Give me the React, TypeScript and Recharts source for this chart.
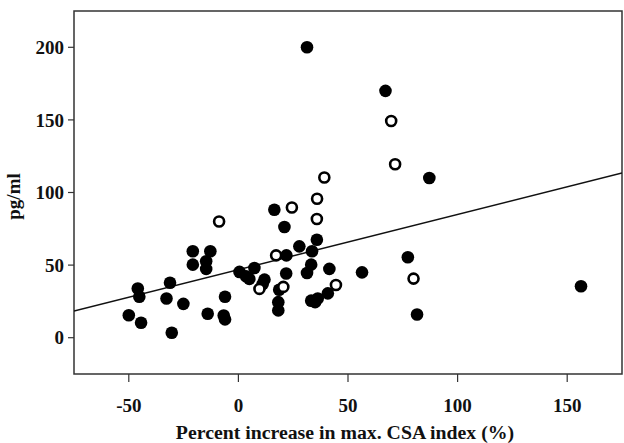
import { ScatterChart, Scatter, XAxis, YAxis, ReferenceLine, ReferenceArea } from 'recharts';

// filled dots
const filledPoints = [
  { x: -50, y: 15.5 }, { x: -45.9, y: 33.9 }, { x: -45.2, y: 28.2 }, { x: -44.4, y: 10.3 },
  { x: -32.8, y: 27 }, { x: -31.2, y: 37.8 }, { x: -30.4, y: 3.4 }, { x: -25.1, y: 23.3 },
  { x: -20.8, y: 59.5 }, { x: -20.8, y: 50.3 }, { x: -14.7, y: 52.6 }, { x: -14.7, y: 47.4 },
  { x: -12.8, y: 59.5 }, { x: -14, y: 16.5 }, { x: -6.7, y: 15.3 }, { x: -6.1, y: 12.6 },
  { x: -6.1, y: 28.2 }, { x: 0.5, y: 45.3 }, { x: 3.5, y: 42.3 }, { x: 7.3, y: 48 },
  { x: 5, y: 40.5 }, { x: 11.9, y: 40 }, { x: 11.1, y: 37 }, { x: 16.4, y: 88.1 },
  { x: 21, y: 76.2 }, { x: 21.9, y: 56.7 }, { x: 21.8, y: 44.2 }, { x: 18.6, y: 33 },
  { x: 18.2, y: 24.5 }, { x: 18.2, y: 18.8 }, { x: 27.8, y: 62.9 }, { x: 33.6, y: 59.5 },
  { x: 35.8, y: 67.5 }, { x: 33.2, y: 50.3 }, { x: 31.3, y: 44.6 }, { x: 41.5, y: 47.4 },
  { x: 40.8, y: 30.5 }, { x: 36.2, y: 27 }, { x: 33.2, y: 25.5 }, { x: 35, y: 24.5 },
  { x: 56.4, y: 45 }, { x: 77.3, y: 55.4 }, { x: 81.5, y: 16 }, { x: 156.3, y: 35.4 },
  { x: 31.3, y: 200 }, { x: 67.1, y: 170 }, { x: 87.1, y: 110 },
];

// open circles
const openPoints = [
  { x: -8.8, y: 80 }, { x: 39.2, y: 110.3 }, { x: 35.9, y: 95.7 }, { x: 35.8, y: 81.7 },
  { x: 24.4, y: 89.7 }, { x: 17.2, y: 56.7 }, { x: 9.6, y: 33.6 }, { x: 20.5, y: 35 },
  { x: 44.5, y: 36.3 }, { x: 69.7, y: 149.2 }, { x: 71.5, y: 119.5 }, { x: 79.9, y: 40.7 },
];

// regression line end points
const fitLine = [
  { x: -75, y: 18.3 },
  { x: 175, y: 113.5 },
];

const xTicks = [-50, 0, 50, 100, 150];
const yTicks = [0, 50, 100, 150, 200];

const font = '"Liberation Serif", "Times New Roman", serif';
const tickStyle = { fontFamily: font, fontWeight: 700, fontSize: 19, fill: '#111' };

const FilledDot = (props: any) => <circle cx={props.cx} cy={props.cy} r={6.3} fill="#000" />;
const OpenDot = (props: any) => (
  <circle cx={props.cx} cy={props.cy} r={5} fill="#fff" stroke="#000" strokeWidth={2.6} />
);

export default function App() {
  return (
    <div style={{ position: 'absolute', left: 0, top: 0, background: '#fff' }}>
      <ScatterChart width={624} height={443} margin={{ top: 11, right: 2, left: 0, bottom: 0 }}>
        <XAxis
          type="number"
          dataKey="x"
          domain={[-75, 175]}
          ticks={xTicks}
          allowDataOverflow
          axisLine={false}
          tickLine={{ stroke: '#333', strokeWidth: 1.2 }}
          tickSize={8}
          tickMargin={17}
          height={69}
          tick={tickStyle}
          label={{
            value: 'Percent increase in max. CSA index (%)',
            position: 'insideBottom',
            offset: 4,
            dx: -3,
            style: { ...tickStyle, fontSize: 19.8 },
          }}
        />
        <YAxis
          type="number"
          dataKey="y"
          domain={[-25, 225]}
          ticks={yTicks}
          allowDataOverflow
          axisLine={false}
          tickLine={{ stroke: '#333', strokeWidth: 1.2 }}
          tickSize={6}
          tickMargin={4}
          width={74}
          tick={tickStyle}
          label={{
            value: 'pg/ml',
            angle: -90,
            position: 'insideLeft',
            offset: 13,
            dy: 4,
            style: { ...tickStyle, textAnchor: 'middle' },
          }}
        />
        <ReferenceArea x1={-75} x2={175} y1={-25} y2={225} fill="none" stroke="#333" strokeWidth={1.5} fillOpacity={0} />
        <ReferenceLine segment={fitLine} stroke="#111" strokeWidth={1.5} ifOverflow="hidden" />
        <Scatter data={filledPoints} shape={FilledDot} isAnimationActive={false} />
        <Scatter data={openPoints} shape={OpenDot} isAnimationActive={false} />
      </ScatterChart>
    </div>
  );
}
